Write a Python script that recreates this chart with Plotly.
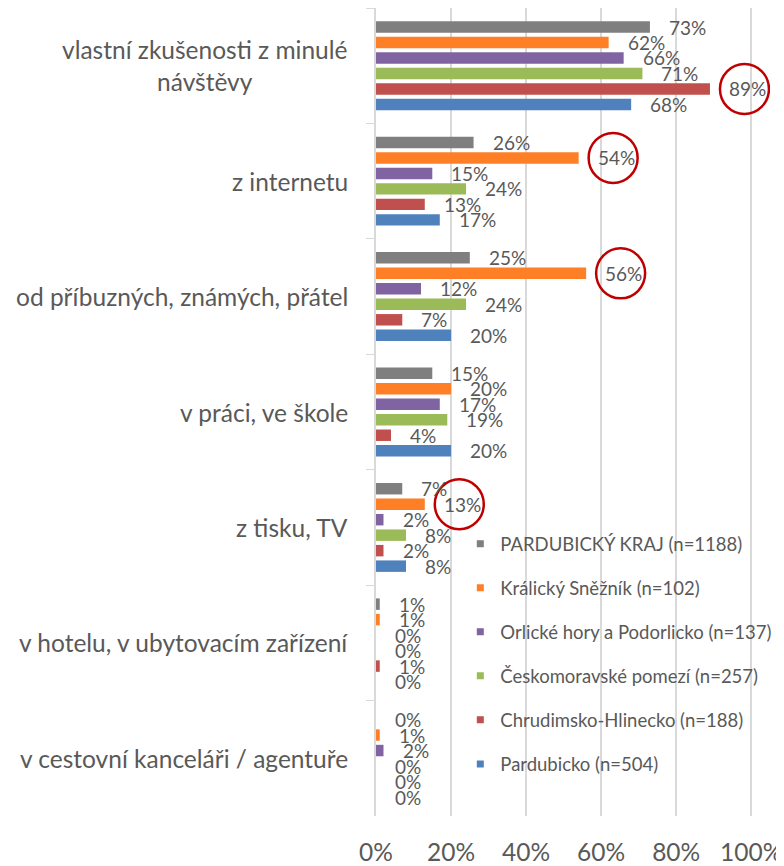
import plotly.graph_objects as go

# ---------------- data ----------------
categories = [
    "vlastní zkušenosti z minulé<br>návštěvy",
    "z internetu",
    "od příbuzných, známých, přátel",
    "v práci, ve škole",
    "z tisku, TV",
    "v hotelu, v ubytovacím zařízení",
    "v cestovní kanceláři / agentuře",
]

series_names = [
    "PARDUBICKÝ KRAJ (n=1188)",
    "Králický Sněžník (n=102)",
    "Orlické hory a Podorlicko (n=137)",
    "Českomoravské pomezí (n=257)",
    "Chrudimsko-Hlinecko (n=188)",
    "Pardubicko (n=504)",
]

pardubicky_kraj = [73, 26, 25, 15, 7, 1, 0]
kralicky_sneznik = [62, 54, 56, 20, 13, 1, 1]
orlicke_hory = [66, 15, 12, 17, 2, 0, 2]
ceskomoravske_pomezi = [71, 24, 24, 19, 8, 0, 0]
chrudimsko_hlinecko = [89, 13, 7, 4, 2, 1, 0]
pardubicko = [68, 17, 20, 20, 8, 0, 0]

series_values = [pardubicky_kraj, kralicky_sneznik, orlicke_hory,
                 ceskomoravske_pomezi, chrudimsko_hlinecko, pardubicko]

# (series index, category index) of the labels that are circled
circled = [(4, 0), (1, 1), (1, 2), (1, 4)]

x_ticks = [0, 20, 40, 60, 80, 100]

# ---------------- styling ----------------
colors = ["#7F7F7F", "#FF7F27", "#8064A2", "#9BBB59", "#C0504D", "#4F81BD"]
FONT = "Lato"
TXT = "#595959"
GRID = "#D9D9D9"
BARGAP = 0.195
BARGROUPGAP = 0.26

fig = go.Figure()
n = len(series_names)
for j, (name, vals) in enumerate(zip(series_names, series_values)):
    fig.add_trace(go.Bar(
        y=categories, x=vals, orientation="h", name=name,
        marker=dict(color=colors[j], line=dict(width=0)),
        showlegend=False, hoverinfo="skip",
    ))

# legend proxies (small square markers)
for j, name in enumerate(series_names):
    fig.add_trace(go.Scatter(
        x=[None], y=[None], mode="markers", name=name,
        marker=dict(symbol="square", size=7, color=colors[j]),
        legendgroup=f"g{j}", showlegend=True,
    ))

annotations = []
shapes = []
slot = (1 - BARGAP) / n
for j, vals in enumerate(series_values):
    off = -(1 - BARGAP) / 2 + (j + 0.5) * slot
    for i, v in enumerate(vals):
        annotations.append(dict(
            x=v, y=i + off, xref="x", yref="y", text=f"{v}%",
            xanchor="left", yanchor="middle", xshift=17, showarrow=False,
            font=dict(family=FONT, size=19, color=TXT),
        ))
        if (j, i) in circled:
            shapes.append(dict(
                type="circle", xref="x", yref="y",
                xsizemode="pixel", ysizemode="pixel",
                xanchor=v, yanchor=i + off,
                x0=10, x1=59, y0=-25, y1=25,
                line=dict(color="#C00000", width=2.5),
            ))

# category labels (centered multi-line)
for i, c in enumerate(categories):
    annotations.append(dict(
        x=0, y=i, xref="paper", yref="y", text=c, xanchor="right",
        yanchor="middle", align="center", xshift=-26, showarrow=False,
        font=dict(family=FONT, size=24.5, color=TXT),
    ))

fig.update_layout(
    width=776, height=858,
    margin=dict(l=368, r=14, t=0, b=45),
    paper_bgcolor="white", plot_bgcolor="white",
    barmode="group", bargap=BARGAP, bargroupgap=BARGROUPGAP,
    font=dict(family=FONT, color=TXT),
    annotations=annotations, shapes=shapes,
    legend=dict(
        x=0.214, y=0.36, xanchor="left", yanchor="top",
        bgcolor="rgba(0,0,0,0)", font=dict(family=FONT, size=18.5, color=TXT),
        traceorder="grouped", tracegroupgap=17, itemwidth=30,
    ),
    xaxis=dict(
        range=[0, 105], tickvals=x_ticks, ticktext=[f"{t}%" for t in x_ticks],
        showgrid=True, gridcolor=GRID, gridwidth=1.5, zeroline=False,
        showline=False, ticks="outside", ticklen=15, tickcolor="rgba(0,0,0,0)",
        tickfont=dict(family=FONT, size=24.5, color=TXT),
    ),
    yaxis=dict(
        type="category", categoryorder="array", categoryarray=categories,
        range=[len(categories) - 0.5, -0.5], showticklabels=False,
        showgrid=False, zeroline=False, showline=True, linecolor=GRID,
        linewidth=1.5, ticks="outside", tickson="boundaries", ticklen=8,
        tickcolor=GRID,
    ),
)

fig.write_html("out.html")
